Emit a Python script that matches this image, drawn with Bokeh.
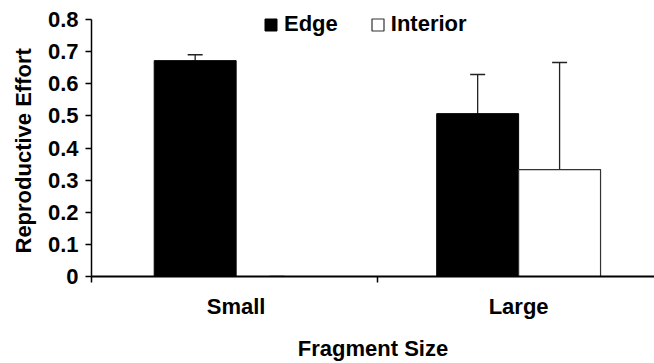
from bokeh.plotting import figure
from bokeh.models import ColumnDataSource, Whisker, TeeHead, FixedTicker, Legend, LegendItem, Range1d, Title
from bokeh.embed import file_html
from bokeh.resources import INLINE

# data
categories = ["Small", "Large"]
edge_values = [0.672, 0.507]
edge_errors = [0.018, 0.122]
interior_values = [0.0, 0.333]
interior_errors = [0.0, 0.333]
y_ticks = [0, 0.1, 0.2, 0.3, 0.4, 0.5, 0.6, 0.7, 0.8]
y_tick_labels = ["0", "0.1", "0.2", "0.3", "0.4", "0.5", "0.6", "0.7", "0.8"]
series_names = ["Edge", "Interior"]
x_title = "Fragment Size"
y_title = "Reproductive Effort"

FONT = "Liberation Sans"
FS = "22px"

centers = list(range(len(categories)))
bw = 0.29
x_start = -0.512
x_end = 1.481
y_end = 0.8 + 19 / 321.0

p = figure(width=654, height=363, output_backend="svg", toolbar_location=None,
           x_range=Range1d(x_start, x_end), y_range=Range1d(0, y_end),
           min_border_left=90, min_border_right=0, min_border_top=0, min_border_bottom=87)
p.outline_line_color = None
p.xgrid.grid_line_color = None
p.ygrid.grid_line_color = None
p.background_fill_color = "white"
p.border_fill_color = "white"

edge_src = ColumnDataSource(dict(
    x=[c - bw / 2 for c in centers], top=edge_values,
    lower=edge_values, upper=[v + e for v, e in zip(edge_values, edge_errors)]))
int_src = ColumnDataSource(dict(
    x=[c + bw / 2 for c in centers], top=interior_values,
    lower=interior_values, upper=[v + e for v, e in zip(interior_values, interior_errors)]))

r_edge = p.vbar(x="x", top="top", bottom=0, width=bw, source=edge_src,
                fill_color="black", line_color="black", line_width=1)
r_int = p.vbar(x="x", top="top", bottom=0, width=bw, source=int_src,
               fill_color="white", line_color="#333333", line_width=1.2)

for src in (edge_src, int_src):
    w = Whisker(base="x", lower="lower", upper="upper", source=src,
                line_color="#222222", line_width=1.3,
                upper_head=TeeHead(size=15, line_color="#222222", line_width=1.5),
                lower_head=None)
    p.add_layout(w)

# axes
xa = p.xaxis[0]
xa.ticker = FixedTicker(ticks=centers, minor_ticks=[x_start, 0.5, 1.5])
xa.major_label_overrides = {c: n for c, n in zip(centers, categories)}
xa.major_tick_line_color = None
xa.major_tick_out = 0
xa.major_tick_in = 0
xa.minor_tick_out = 6
xa.minor_tick_in = 0
xa.minor_tick_line_color = "black"
xa.minor_tick_line_width = 1.5
xa.axis_line_color = "black"
xa.axis_line_width = 2
xa.major_label_standoff = 11
xa.major_label_text_font = FONT
xa.major_label_text_font_style = "bold"
xa.major_label_text_font_size = FS
xa.major_label_text_color = "black"
xa.axis_label = x_title
xa.axis_label_text_font = FONT
xa.axis_label_text_font_style = "bold"
xa.axis_label_text_font_size = FS
xa.axis_label_text_color = "black"
xa.axis_label_standoff = 14

ya = p.yaxis[0]
ya.bounds = (0, 0.8)
ya.ticker = FixedTicker(ticks=y_ticks, minor_ticks=[])
ya.major_label_overrides = {t: l for t, l in zip(y_ticks, y_tick_labels)}
ya.major_tick_out = 6
ya.major_tick_in = 0
ya.major_tick_line_color = "black"
ya.major_tick_line_width = 1.5
ya.axis_line_color = "black"
ya.axis_line_width = 1.5
ya.major_label_standoff = 7
ya.major_label_text_font = FONT
ya.major_label_text_font_style = "bold"
ya.major_label_text_font_size = FS
ya.major_label_text_color = "black"

# y-axis title placed so it is centred on the 0..0.8 axis span
p.add_layout(Title(text=y_title, align="left", offset=23, standoff=17,
                   text_font=FONT, text_font_style="bold", text_font_size=FS,
                   text_color="black"), "left")

legend = Legend(items=[LegendItem(label=series_names[0], renderers=[r_edge]),
                       LegendItem(label=series_names[1], renderers=[r_int])],
                location=(172, 239), orientation="horizontal",
                glyph_width=15, glyph_height=15, label_standoff=6, spacing=32,
                padding=0, margin=0, border_line_color=None, background_fill_alpha=0,
                label_text_font=FONT, label_text_font_style="bold",
                label_text_font_size=FS, label_text_color="black")
p.add_layout(legend)

open("out.html", "w").write(file_html(p, INLINE))
